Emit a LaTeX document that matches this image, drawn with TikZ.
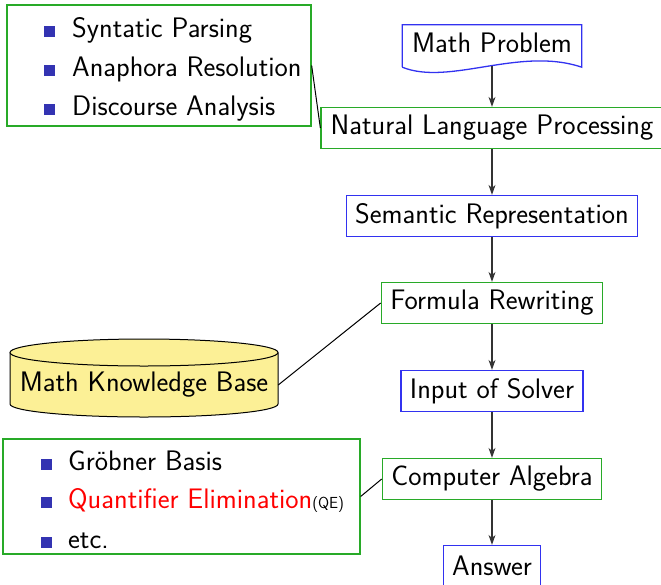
\documentclass[tikz,border=0pt]{standalone}
\usetikzlibrary{arrows.meta,calc}
\definecolor{boxgreen}{RGB}{40,170,40}
\definecolor{boxblue}{RGB}{50,50,240}
\definecolor{bulletblue}{RGB}{51,51,178}
\definecolor{kbyellow}{RGB}{252,240,150}
\newcommand{\sqbullet}{\textcolor{bulletblue}{\rule{11pt}{11pt}}}
\begin{document}
\begin{tikzpicture}[x=1pt,y=-1pt,
  every node/.style={font=\sffamily\fontsize{28.2}{32}\selectfont},
  stage/.style={draw, line width=1.3pt, fill=white, minimum height=41pt, inner xsep=9pt},
  gstage/.style={stage, draw=boxgreen},
  bstage/.style={stage, draw=boxblue},
  listbox/.style={draw=boxgreen, line width=1.3pt},
  item/.style={anchor=base west, inner sep=0pt},
  flow/.style={-{Stealth[length=10pt,width=7pt]}, line width=1.1pt, draw=black!80},
  link/.style={line width=1pt, draw=black}]
\useasboundingbox (0,0) rectangle (661,584);

% main pipeline
\node[minimum width=179pt, minimum height=36pt, inner sep=0pt] (mp) at (492,43) {Math Problem};
\draw[boxblue, line width=1.3pt]
  ($(mp.south west)+(0,6)$) -- (mp.north west) -- (mp.north east) -- ($(mp.south east)+(0,6)$)
  .. controls ($(mp.south east)+(-62,-15)$) and ($(mp.south west)+(47,25)$) .. ($(mp.south west)+(0,6)$);
\coordinate (mpout) at (492,65.5);

\node[gstage, minimum width=342pt] (nlp) at (492,128) {Natural Language Processing};
\node[bstage] (sem) at (492,216) {Semantic Representation};
\node[gstage] (rew) at (492,303) {Formula Rewriting};
\node[bstage] (inp) at (492,391) {Input of Solver};
\node[gstage] (ca) at (492,479) {Computer Algebra};
\node[bstage] (ans) at (492,566) {Answer};

\draw[flow] (mpout) -- (nlp);
\draw[flow] (nlp) -- (sem);
\draw[flow] (sem) -- (rew);
\draw[flow] (rew) -- (inp);
\draw[flow] (inp) -- (ca);
\draw[flow] (ca) -- (ans);

% NLP sub-tasks
\node[listbox, minimum width=304pt, minimum height=121pt] (nlptasks) at (159,65.5) {};
\node[item] (t1) at (44,37) {\sqbullet\hspace{17pt}Syntatic Parsing};
\node[item] (t2) at (44,76) {\sqbullet\hspace{17pt}Anaphora Resolution};
\node[item] (t3) at (44,115) {\sqbullet\hspace{17pt}Discourse Analysis};
\draw[link] (nlptasks.east) -- (nlp.west);

% knowledge base cylinder
\draw[fill=kbyellow, line width=1pt]
  (10,352.5) -- (10,404) arc[start angle=180, end angle=360, x radius=134pt, y radius=13pt]
  -- (278,352.5);
\draw[fill=kbyellow, line width=1pt] (144,352.5) ellipse [x radius=134pt, y radius=13.5pt];
\node[minimum width=268pt, inner sep=0pt] (kb) at (144,385) {Math Knowledge Base};
\draw[link] (kb.east) -- (rew.west);

% algebra methods
\node[listbox, minimum width=357pt, minimum height=115pt] (methods) at (181.5,496.5) {};
\node[item] (m1) at (41,470) {\sqbullet\hspace{16pt}Gr\"obner Basis};
\node[item] (m2) at (41,508) {\sqbullet\hspace{16pt}\textcolor{red}{Quantifier Elimination}{\fontsize{16}{18}\selectfont(QE)}};
\node[item] (m3) at (41,548) {\sqbullet\hspace{16pt}etc.};
\draw[link] (methods.east) -- (ca.west);
\end{tikzpicture}
\end{document}
